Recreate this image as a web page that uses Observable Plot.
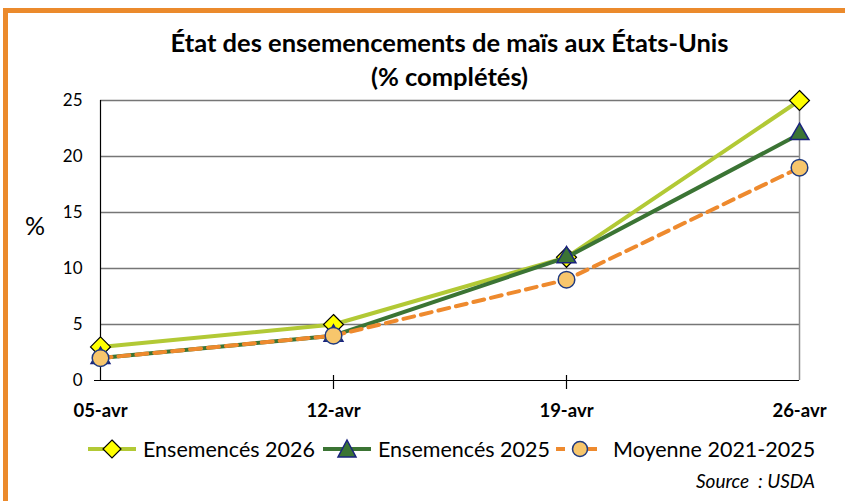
<!DOCTYPE html>
<html><head><meta charset="utf-8">
<script src="https://cdn.jsdelivr.net/npm/d3@7"></script>
<script src="https://cdn.jsdelivr.net/npm/@observablehq/plot@0.6"></script>
<style>
body{margin:0;background:#fff;font-family:Lato,"Open Sans",sans-serif;}
#wrap{position:relative;width:845px;height:501px;overflow:hidden;background:#fff;}
#frame{position:absolute;left:3px;top:8px;width:900px;height:600px;border-top:5px solid #EB8A2C;border-left:5px solid #EB8A2C;}
#title{position:absolute;left:27px;width:845px;top:25px;text-align:center;font-weight:bold;font-size:25.5px;line-height:34px;color:#000;}
#ylab{position:absolute;left:25px;top:210px;font-size:25px;}
#chart{position:absolute;left:0;top:80px;}
#legend{position:absolute;top:436px;left:0;width:845px;height:26px;font-size:21.5px;white-space:nowrap;}
#legend svg{position:absolute;top:1px;display:block;}
#legend span{position:absolute;top:0;line-height:26px;}
#source{position:absolute;right:30px;top:469px;font-style:italic;font-size:19px;}
</style></head>
<body>
<div id="wrap">
<div id="frame"></div>
<div id="title">État des ensemencements de maïs aux États-Unis<br>(% complétés)</div>
<div id="ylab">%</div>
<div id="chart"></div>
<div id="legend"></div>
<div id="source">Source&nbsp; : USDA</div>
</div>
<script>
const weeks = ["05-avr", "12-avr", "19-avr", "26-avr"];
const plant2026 = [3, 5, 11, 25];
const plant2025 = [2, 4, 11, 22];
const avg2125 = [2, 4, 9, 19];
const seriesNames = ["Ensemencés 2026", "Ensemencés 2025", "Moyenne 2021-2025"];
const yTicks = [0, 5, 10, 15, 20, 25];

const c26 = "#B2C935", c25 = "#3B7434", cAvg = "#EE8A2E";
const d26 = weeks.map((w, i) => ({w, v: plant2026[i]}));
const d25 = weeks.map((w, i) => ({w, v: plant2025[i]}));
const dAvg = weeks.map((w, i) => ({w, v: avg2125[i]}));

const plot = Plot.plot({
  width: 845, height: 347,
  marginLeft: 100, marginRight: 46, marginTop: 20, marginBottom: 47,
  style: {fontFamily: "Lato, 'Open Sans', sans-serif", fontSize: "16px", color: "#000", background: "transparent"},
  x: {type: "point", domain: weeks, padding: 0, label: null},
  y: {domain: [0, 25], label: null},
  marks: [
    Plot.ruleY(yTicks.filter(d => d > 0), {stroke: "#767676", strokeWidth: 1.3}),
    Plot.ruleX([weeks[3]], {y1: 0, y2: 25, stroke: "#8c8c8c", strokeWidth: 1.5, insetBottom: -9}),
    Plot.ruleX([weeks[0]], {y1: 0, y2: 25, stroke: "#000", strokeWidth: 1.2}),
    Plot.ruleY([0], {stroke: "#000", strokeWidth: 1.2, insetLeft: -6}),
    Plot.ruleY(yTicks, {x1: weeks[0], x2: weeks[0], insetLeft: -6, insetRight: -4, stroke: "#000", strokeWidth: 1.2}),
    Plot.ruleX(weeks.slice(1, 3), {y1: 0, y2: 0, insetTop: -5, insetBottom: -9, stroke: "#000", strokeWidth: 1.2}),
    Plot.axisY(yTicks, {tickSize: 0, tickPadding: 18, fontSize: 17, label: null}),
    Plot.axisX({tickSize: 0, tickPadding: 23, fontSize: 18.5, fontWeight: "bold", label: null}),
    Plot.line(d26, {x: "w", y: "v", stroke: c26, strokeWidth: 4}),
    Plot.dot(d26, {x: "w", y: "v", symbol: "diamond2", r: 9, fill: "#FFFF00", stroke: "#000", strokeWidth: 1.2}),
    Plot.line(d25, {x: "w", y: "v", stroke: c25, strokeWidth: 4}),
    Plot.dot(d25, {x: "w", y: "v", symbol: "triangle2", r: 9, fill: c25, stroke: "#1A237E", strokeWidth: 1.5}),
    Plot.line(dAvg, {x: "w", y: "v", stroke: cAvg, strokeWidth: 4, strokeDasharray: "11 7"}),
    Plot.dot(dAvg, {x: "w", y: "v", r: 8.3, fill: "#F7C66C", stroke: "#1F3A80", strokeWidth: 1.5})
  ]
});
document.getElementById("chart").appendChild(plot);

// legend
const legend = document.getElementById("legend");
const swLeft = [87, 322, 555], txtLeft = [143, 378, 613];
const sw = [
  {stroke: c26, dash: null, sym: `<path d="M25,3 L34,12 L25,21 L16,12 Z" fill="#FFFF00" stroke="#000" stroke-width="1.2"/>`},
  {stroke: c25, dash: null, sym: `<path d="M25,3 L34,20 L16,20 Z" fill="${c25}" stroke="#1A237E" stroke-width="1.5"/>`},
  {stroke: cAvg, dash: "9 7", sym: `<circle cx="25" cy="12" r="7.5" fill="#F7C66C" stroke="#1F3A80" stroke-width="1.5"/>`}
];
seriesNames.forEach((name, i) => {
  legend.insertAdjacentHTML("beforeend",
    `<svg width="50" height="24" style="left:${swLeft[i]}px"><line x1="1" x2="49" y1="12" y2="12" stroke="${sw[i].stroke}" stroke-width="4" ${sw[i].dash ? `stroke-dasharray="${sw[i].dash}"` : ""}/>${sw[i].sym}</svg><span style="left:${txtLeft[i]}px">${name}</span>`);
});
</script>
</body></html>
